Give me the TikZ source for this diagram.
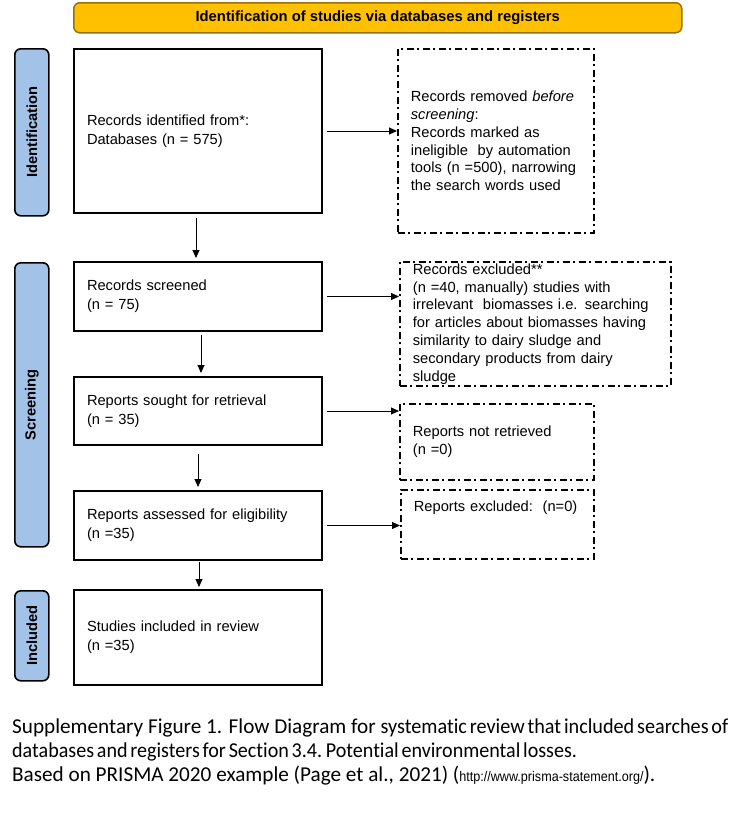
\documentclass[tikz,border=0pt]{standalone}
\usepackage{fontspec}
\usepackage{graphicx}
\setmainfont{Liberation Sans}
\newfontfamily\calfont[Ligatures=NoCommon]{Carlito}
\usetikzlibrary{arrows.meta,calc}
\definecolor{headerfill}{RGB}{255,192,0}
\definecolor{headerborder}{RGB}{150,115,10}
\definecolor{phaseblue}{RGB}{162,194,232}
\newcommand{\tightpart}[2]{{\spaceskip=0.14em\relax\xspaceskip=0.18em\relax\scalebox{#1}[1]{#2}}}
\begin{document}
\begin{tikzpicture}[x=1pt,y=-1pt,
  mainbox/.style={draw=black,line width=2pt,anchor=north west,align=left,inner xsep=13pt,inner ysep=0pt,text width=222pt,font=\fontsize{14.67}{19}\selectfont},
  dbox/.style={draw=black,line width=1.8pt,dash pattern=on 7pt off 3.5pt on 2pt off 3.5pt,anchor=north west,align=left,inner xsep=13pt,inner ysep=0pt,font=\fontsize{14.67}{17.8}\selectfont},
  phase/.style={draw=black,line width=1.6pt,fill=phaseblue,rounded corners=6pt,anchor=north west,minimum width=34pt,inner sep=0pt,font=\bfseries\fontsize{14.67}{17}\selectfont},
  arr/.style={line width=0.9pt,-{Triangle[length=8pt,width=7pt]}},
]
\useasboundingbox (0,0) rectangle (755,831);
\fill[white] (0,0) rectangle (755,831);

% header
\node[draw=headerborder,fill=headerfill,rounded corners=6pt,line width=1.5pt,minimum width=608pt,minimum height=30pt,inner sep=0pt,anchor=north west,font=\bfseries\fontsize{14.8}{17}\selectfont] (hdr) at (73,2) {Identification of studies via databases and registers};

% phase labels
\node[phase,minimum height=167pt] (pid) at (14,48) {\rotatebox{90}{Identification}};
\node[phase,minimum height=284pt] (pscr) at (14,262) {\rotatebox{90}{Screening}};
\node[phase,minimum height=90pt] (pinc) at (14,590) {\rotatebox{90}{Included}};

% main boxes
\node[mainbox,minimum height=164pt] (b1) at (73,48) {Records identified from*:\\Databases (n = 575)};
\node[mainbox,minimum height=69pt] (b2) at (73,261) {Records screened\\(n = 75)};
\node[mainbox,minimum height=68pt] (b3) at (73,376) {Reports sought for retrieval\\(n = 35)};
\node[mainbox,minimum height=69pt] (b4) at (73,490) {Reports assessed for eligibility\\(n =35)};
\node[mainbox,minimum height=95pt] (b5) at (73,589) {Studies included in review\\(n =35)};

% dashed boxes
\node[dbox,text width=170pt,minimum height=184pt] (d1) at (397,48) {Records removed \textit{before}\\\textit{screening}:\\Records marked as\\ineligible\ \ by automation\\tools (n =500), narrowing\\the search words used};
\node[dbox,text width=245pt,minimum height=124pt] (d2) at (399,261) {Records excluded**\\(n =40, manually) studies with\\irrelevant\ \ biomasses i.e. searching\\for articles about biomasses having\\similarity to dairy sludge and\\secondary products from dairy\\sludge};
\node[dbox,text width=168pt,minimum height=76pt] (d3) at (399,403) {Reports not retrieved\\(n =0)};
\node[dbox,text width=167pt,text height=22pt,text depth=47pt] (d4) at (400,489) {Reports excluded:\ \ (n=0)};

% horizontal arrows
\draw[arr] ([xshift=4pt]b1.east) -- (b1.east -| d1.west);
\draw[arr] ([xshift=4pt]b2.east) -- (b2.east -| d2.west);
\draw[arr] ([xshift=4pt]b3.east) -- (b3.east -| d3.west);
\draw[arr] ([xshift=4pt]b4.east) -- (b4.east -| d4.west);

% vertical arrows
\draw[arr] ([xshift=-2pt,yshift=-4pt]b1.south) -- ([xshift=-2pt,yshift=3pt]b2.north);
\draw[arr] ([xshift=3pt,yshift=-3pt]b2.south) -- ([xshift=3pt,yshift=3pt]b3.north);
\draw[arr] ([yshift=-8pt]b3.south) -- ([yshift=3pt]b4.north);
\draw[arr] ([xshift=1pt,yshift=-1pt]b4.south) -- ([xshift=1pt,yshift=2pt]b5.north);

% caption
\node[anchor=north west,inner sep=0pt,align=left,font=\calfont\fontsize{21.2}{24}\selectfont] (cap) at (12,719) {Supplementary Figure 1. Flow Diagram for \tightpart{0.953}{systematic review that included searches of}\\\tightpart{0.947}{databases and registers for Section 3.4. Potential environmental losses.}\\Based on PRISMA 2020 example (Page et al., 2021) ({\fontspec{Liberation Sans}\fontsize{14}{16}\selectfont\scalebox{0.9}[1]{http://www.prisma-statement.org/}}).};
\end{tikzpicture}
\end{document}
